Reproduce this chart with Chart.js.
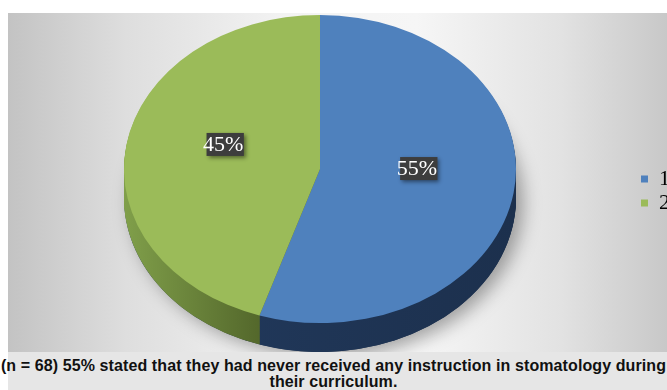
<!DOCTYPE html>
<html lang="en">
<head>
    <meta charset="UTF-8">
    <script src="https://cdn.jsdelivr.net/npm/chart.js"></script>
    <title>Stomatology instruction</title>
    <style>
        body {
            margin: 0;
            width: 667px;
            height: 390px;
            overflow: hidden;
            position: relative;
            background: #fff;
            font-family: "Liberation Sans", Arial, sans-serif;
        }

        #panel {
            position: absolute;
            left: 8px;
            top: 13px;
            width: 659px;
            height: 339px;
            overflow: hidden;
            background: linear-gradient(90deg, #c3c3c3 0%, #dedede 18%, #f3f3f3 42%, #f6f6f6 62%, #e2e2e2 84%, #c8c8c8 100%);
        }

        #panel .wrap {
            position: absolute;
            left: -7px;
            top: 0;
            width: 679px;
            height: 339px;
        }

        #captionBg {
            position: absolute;
            left: 8px;
            top: 352px;
            width: 659px;
            height: 38px;
            background: #e6e6e6;
        }

        #caption {
            position: absolute;
            left: 0;
            top: 358px;
            width: 667px;
            text-align: center;
            white-space: nowrap;
            font-weight: bold;
            font-size: 16px;
            letter-spacing: 0.1px;
            line-height: 16px;
            color: #111;
        }
    </style>
</head>
<body>

    <div id="panel">
        <div class="wrap"><canvas id="myChart"></canvas></div>
    </div>
    <div id="captionBg"></div>
    <div id="caption">(n = 68) 55% stated that they had never received any instruction in stomatology during<br>their curriculum.</div>

    <script>
        // data
        const categories = ['1', '2'];
        const shares = [55, 45];

        const topColors = ['#4f81bd', '#9bbb59'];
        const sideColors = [['#223a5e', '#1c304d'], ['#809f4a', '#53672b']];

        const TILT = 0.786;  // vertical squash of the pie
        const DEPTH = 29;    // thickness of the 3d wall
        const LIFT = 22;     // pie sits a bit above the legend centre

        // draws the 3d wall and squashes the top face, then puts the labels on
        const pie3d = {
            id: 'pie3d',
            beforeDatasetsDraw(chart) {
                const ctx = chart.ctx;
                const arcs = chart.getDatasetMeta(0).data;
                const cx = arcs[0].x, cy = arcs[0].y;
                const r = arcs[0].outerRadius;

                const squash = (d) => {
                    ctx.translate(0, cy - LIFT + d);
                    ctx.scale(1, TILT);
                    ctx.translate(0, -cy);
                };

                // soft shadow under the whole thing
                ctx.save();
                squash(DEPTH);
                ctx.shadowColor = 'rgba(0,0,0,0.35)';
                ctx.shadowBlur = 18;
                ctx.shadowOffsetX = 7;
                ctx.shadowOffsetY = 5;
                ctx.beginPath();
                ctx.ellipse(cx, cy, r, r, 0, 0, Math.PI * 2);
                ctx.fillStyle = '#1c304d';
                ctx.fill();
                ctx.restore();

                for (let d = DEPTH; d >= 1; d--) {
                    arcs.forEach((arc, i) => {
                        ctx.save();
                        squash(d);
                        const g = ctx.createLinearGradient(cx - r, 0, cx + r, 0);
                        if (i === 1) {
                            g.addColorStop(0, sideColors[i][0]);
                            g.addColorStop(0.35, sideColors[i][1]);
                            g.addColorStop(1, sideColors[i][1]);
                        } else {
                            g.addColorStop(0, sideColors[i][0]);
                            g.addColorStop(1, sideColors[i][1]);
                        }
                        ctx.beginPath();
                        ctx.moveTo(arc.x, arc.y);
                        ctx.arc(arc.x, arc.y, arc.outerRadius, arc.startAngle, arc.endAngle);
                        ctx.closePath();
                        ctx.fillStyle = g;
                        ctx.fill();
                        ctx.restore();
                    });
                }

                ctx.save();
                squash(0);
            },
            afterDatasetsDraw(chart) {
                const ctx = chart.ctx;
                ctx.restore();

                const arcs = chart.getDatasetMeta(0).data;
                ctx.save();
                ctx.font = '22px "Liberation Serif", "Times New Roman", serif';
                ctx.textAlign = 'center';
                ctx.textBaseline = 'middle';
                arcs.forEach((arc, i) => {
                    const mid = (arc.startAngle + arc.endAngle) / 2;
                    const rr = arc.outerRadius * 0.5;
                    const x = arc.x + Math.cos(mid) * rr;
                    const y = arc.y - LIFT + Math.sin(mid) * rr * TILT - 13;
                    const txt = shares[i] + '%';
                    const w = ctx.measureText(txt).width - 3;

                    ctx.save();
                    ctx.shadowColor = 'rgba(0,0,0,0.45)';
                    ctx.shadowBlur = 4;
                    ctx.shadowOffsetX = 2;
                    ctx.shadowOffsetY = 2;
                    ctx.fillStyle = '#3d3d3d';
                    ctx.fillRect(x - w / 2 + 2, y - 11, w, 23);
                    ctx.restore();

                    ctx.fillStyle = '#ffffff';
                    ctx.fillText(txt, x, y + 1);
                });
                ctx.restore();
            }
        };

        const ctx = document.getElementById('myChart').getContext('2d');

        const myChart = new Chart(ctx, {
            type: 'pie',
            data: {
                labels: categories,
                datasets: [{
                    data: shares,
                    backgroundColor: topColors,
                    borderWidth: 0,
                    clip: false,
                }],
            },
            options: {
                responsive: true,
                maintainAspectRatio: false,
                animation: false,
                events: [],
                radius: 196,
                layout: {
                    padding: { top: 17 }
                },
                plugins: {
                    tooltip: { enabled: false },
                    legend: {
                        position: 'right',
                        labels: {
                            boxWidth: 7,
                            boxHeight: 7,
                            padding: 2,
                            color: '#000',
                            font: { family: '"Liberation Serif", "Times New Roman", serif', size: 22, lineHeight: 1 }
                        }
                    }
                }
            },
            plugins: [pie3d]
        });
    </script>

</body>
</html>
